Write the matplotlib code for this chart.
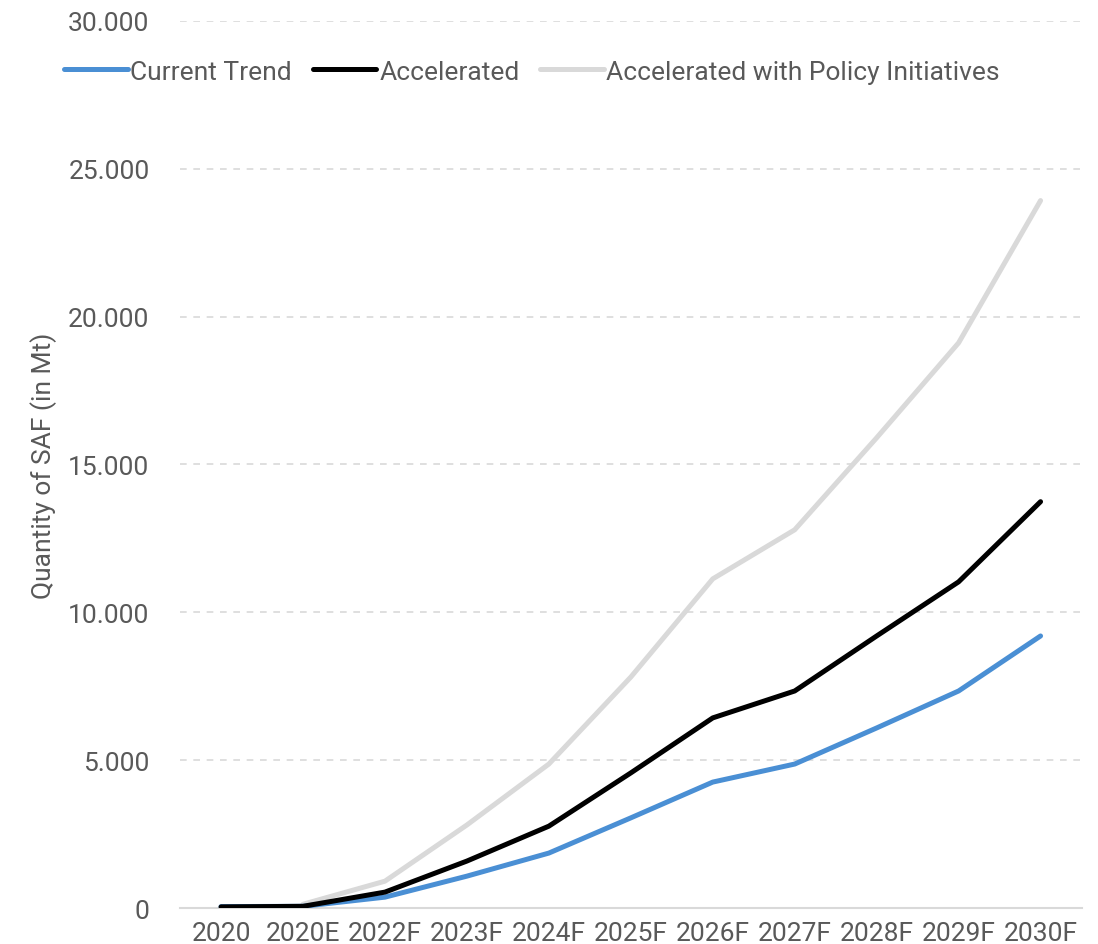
import matplotlib.pyplot as plt
from matplotlib.ticker import FuncFormatter

plt.rcParams['font.family'] = ['Roboto', 'DejaVu Sans']

years = ['2020', '2020E', '2022F', '2023F', '2024F', '2025F', '2026F',
         '2027F', '2028F', '2029F', '2030F']
current_trend = [50, 60, 370, 1080, 1860, 3050, 4260, 4870, 6090, 7340, 9200]
accelerated = [40, 60, 540, 1590, 2770, 4570, 6430, 7340, 9200, 11030, 13740]
policy = [None, 130, 910, 2810, 4870, 7810, 11130, 12790, 15900, 19110, 23920]

text_color = '#595959'
fs = 19

fig = plt.figure(figsize=(10.98, 9.45), dpi=100)
ax = fig.add_axes([0.164, 0.038, 0.821, 0.939])

x = list(range(len(years)))
px = [i for i, v in zip(x, policy) if v is not None]
pv = [v for v in policy if v is not None]

ax.plot(x, current_trend, color='#4a8fd4', lw=3.6, solid_capstyle='round',
        label='Current Trend', zorder=3)
ax.plot(x, accelerated, color='black', lw=3.6, solid_capstyle='round',
        label='Accelerated', zorder=4)
ax.plot(px, pv, color='#d9d9d9', lw=3.6, solid_capstyle='round',
        label='Accelerated with Policy Initiatives', zorder=2)

ax.set_xlim(-0.5, 10.5)
ax.set_ylim(0, 30000)
ax.set_yticks(range(0, 30001, 5000))
ax.yaxis.set_major_formatter(FuncFormatter(lambda v, p: f'{int(v):,}'.replace(',', '.')))
ax.set_xticks(x)
ax.set_xticklabels(years)

ax.grid(axis='y', color='#d9d9d9', ls=(0, (4, 4)), lw=1.2)
ax.set_axisbelow(True)
for s in ['top', 'right', 'left']:
    ax.spines[s].set_visible(False)
ax.spines['bottom'].set_color('#d9d9d9')
ax.spines['bottom'].set_linewidth(1.5)
ax.tick_params(axis='both', length=0, labelsize=fs, colors=text_color)
ax.tick_params(axis='y', pad=22)
ax.tick_params(axis='x', pad=9)

ax.set_ylabel('Quantity of SAF (in Mt)', fontsize=fs, color=text_color, labelpad=8)

leg = ax.legend(loc='upper left', bbox_to_anchor=(-0.14, 0.968), ncol=3,
                frameon=False, fontsize=fs, handlelength=2.4, handletextpad=0.1,
                columnspacing=0.8, borderaxespad=0)
for t in leg.get_texts():
    t.set_color(text_color)

fig.savefig('out.png', dpi=100)
